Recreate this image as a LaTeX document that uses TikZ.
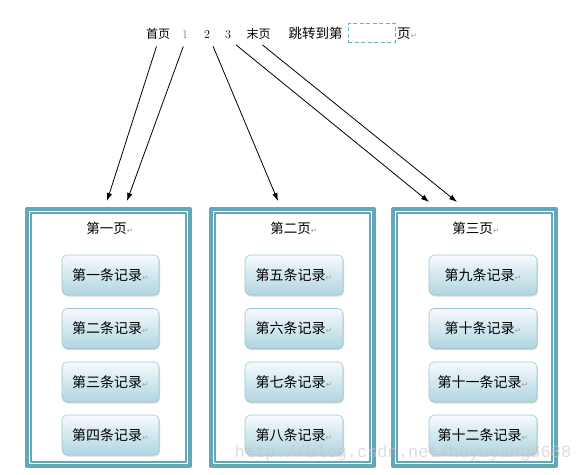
\documentclass[tikz,border=0pt]{standalone}
\usepackage{fontspec}
\usetikzlibrary{arrows.meta,shadows}
\newfontfamily\cjk{Noto Sans CJK SC}
\newfontfamily\symf{DejaVu Sans}
\newfontfamily\wmfont{Liberation Mono}
\definecolor{framec}{RGB}{98,168,184}
\definecolor{recline}{RGB}{158,196,208}
\definecolor{rectop}{RGB}{246,250,252}
\definecolor{recbot}{RGB}{176,213,225}
\definecolor{numc}{RGB}{78,140,182}
\definecolor{boxc}{RGB}{108,178,198}
\newcommand\pmark{{\symf\fontsize{8}{8}\selectfont\textcolor{gray!70}{↵}}}

\begin{document}
\begin{tikzpicture}[x=1pt,y=-1pt,line join=round,
  toptxt/.style={inner sep=1pt,text height=9pt,text depth=2pt,font=\cjk\fontsize{12}{12}\selectfont},
  link/.style={line width=.8pt,-{Latex[length=8pt,width=5.5pt]},shorten <=5pt},
  pageframe/.style={draw=framec,line width=4pt,outer sep=0pt,minimum width=163pt,minimum height=257pt},
  inframe/.style={draw=framec,line width=1.2pt},
  rec/.style={draw=recline,line width=.6pt,rounded corners=5pt,top color=rectop,bottom color=recbot,minimum height=40pt,font=\cjk\fontsize{14}{14}\selectfont,drop shadow={shadow xshift=1pt,shadow yshift=-1.5pt,opacity=.3}},
  title/.style={font=\cjk\fontsize{13.5}{14}\selectfont}]
\useasboundingbox (0,0) rectangle (580,474);
\node[toptxt] (first) at (158,35) {首页};
\node[toptxt,font=\normalfont\fontsize{12}{12}\selectfont,text=numc] (p1) at (185,35) {1};
\node[toptxt,font=\normalfont\fontsize{12}{12}\selectfont] (p2) at (207,35) {2};
\node[toptxt,font=\normalfont\fontsize{12}{12}\selectfont] (p3) at (228,35) {3};
\node[toptxt] (last) at (258.5,35) {末页};
\node[toptxt,font=\cjk\fontsize{13.5}{14}\selectfont] (jump) at (315.5,35) {跳转到第};
\node[draw=boxc,dash pattern=on 4pt off 2.5pt,line width=.8pt,minimum width=47pt,minimum height=19pt,inner sep=0pt] (inbox) at (371.5,32.5) {};
\node[toptxt,font=\cjk\fontsize{13.5}{14}\selectfont,anchor=west] (pg) at (396,35) {页\pmark};
\node[pageframe] (f1) at (108.5,337.5) {};
\node[pageframe] (f2) at (292.5,337.5) {};
\node[pageframe] (f3) at (474.5,337.5) {};
\draw[inframe] ([shift={(4,4)}]f1.north west) rectangle ([shift={(-4,-4)}]f1.south east);
\draw[inframe] ([shift={(4,4)}]f2.north west) rectangle ([shift={(-4,-4)}]f2.south east);
\draw[inframe] ([shift={(4,4)}]f3.north west) rectangle ([shift={(-4,-4)}]f3.south east);
\node[title] (t1) at (110,228) {第一页\pmark};
\node[title] (t2) at (294,228) {第二页\pmark};
\node[title] (t3) at (476,228) {第三页\pmark};
\node[rec,minimum width=97pt] (r1) at (110.5,275) {第一条记录\pmark};
\node[rec,minimum width=97pt] (r2) at (110.5,328.5) {第二条记录\pmark};
\node[rec,minimum width=97pt] (r3) at (110.5,382) {第三条记录\pmark};
\node[rec,minimum width=97pt] (r4) at (110.5,435) {第四条记录\pmark};
\node[rec,minimum width=98pt] (r5) at (294,275) {第五条记录\pmark};
\node[rec,minimum width=98pt] (r6) at (294,328.5) {第六条记录\pmark};
\node[rec,minimum width=98pt] (r7) at (294,382) {第七条记录\pmark};
\node[rec,minimum width=98pt] (r8) at (294,435) {第八条记录\pmark};
\node[rec,minimum width=108pt] (r9) at (483,275) {第九条记录\pmark};
\node[rec,minimum width=108pt] (r10) at (483,328.5) {第十条记录\pmark};
\node[rec,minimum width=108pt] (r11) at (483,382) {第十一条记录\pmark};
\node[rec,minimum width=108pt] (r12) at (483,435) {第十二条记录\pmark};
\coordinate (f1a) at (107,201);
\coordinate (f1b) at (127,201);
\coordinate (f2a) at (278,201);
\coordinate (f3a) at (429,202);
\coordinate (f3b) at (457,202);
\draw[link] (first.south) -- (f1a);
\draw[link] (p1.south) -- (f1b);
\draw[link] (p2.south east) -- (f2a);
\draw[link] (p3.south east) -- (f3a);
\draw[link] (last.south) -- (f3b);
\node[font=\wmfont\fontsize{17}{17}\selectfont,text=gray!45,opacity=.6,inner sep=0pt] (wm) at (403,453.5) {http://blog.csdn.net/huyuyang6688};
\end{tikzpicture}
\end{document}
